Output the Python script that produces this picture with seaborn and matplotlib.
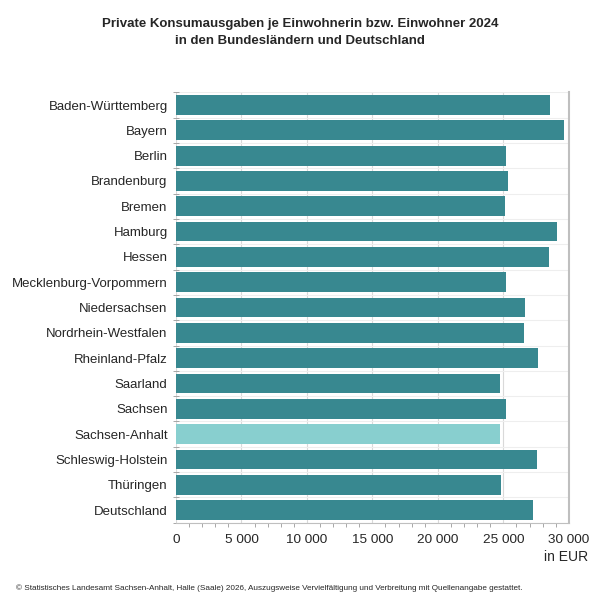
import numpy as np
import pandas as pd
import matplotlib
matplotlib.use("Agg")
import matplotlib.pyplot as plt
import seaborn as sns
from matplotlib.ticker import MultipleLocator, FuncFormatter, FixedLocator

# Daten (EUR je Einwohner)
laender = [
    "Baden-Württemberg", "Bayern", "Berlin", "Brandenburg", "Bremen",
    "Hamburg", "Hessen", "Mecklenburg-Vorpommern", "Niedersachsen",
    "Nordrhein-Westfalen", "Rheinland-Pfalz", "Saarland", "Sachsen",
    "Sachsen-Anhalt", "Schleswig-Holstein", "Thüringen", "Deutschland",
]
ausgaben = [
    28600, 29640, 25190, 25390, 25140,
    29080, 28500, 25220, 26690,
    26560, 27660, 24780, 25220,
    24760, 27560, 24830, 27300,
]
hervorgehoben = "Sachsen-Anhalt"

df = pd.DataFrame({"land": laender, "wert": ausgaben})
df["gruppe"] = np.where(df["land"] == hervorgehoben, "ST", "andere")

dunkel = "#388890"
hell = "#88CFCF"

sns.set_style("white")
plt.rcParams["font.family"] = ["Liberation Sans", "DejaVu Sans"]

fig = plt.figure(figsize=(6, 6), dpi=100)
ax = fig.add_axes([0.2933, 0.1288, 0.6547, 0.7172])

sns.barplot(data=df, y="land", x="wert", hue="gruppe", orient="h",
            palette={"andere": dunkel, "ST": hell}, width=0.78, saturation=1,
            dodge=False, legend=False, ax=ax, zorder=3, linewidth=0)

ax.set_xlim(0, 30000)
ax.set_ylim(len(laender) - 0.5, -0.5)

# x-Achse
ax.xaxis.set_major_locator(MultipleLocator(5000))
ax.xaxis.set_minor_locator(MultipleLocator(1000))
ax.xaxis.set_major_formatter(FuncFormatter(lambda v, p: f"{int(v):,}".replace(",", " ")))
ax.tick_params(axis="x", which="major", length=4, color="#999999", labelsize=9.7, pad=4)
ax.tick_params(axis="x", which="minor", length=3, color="#999999", bottom=True)

# y-Achse: Striche zwischen den Kategorien
ax.yaxis.set_minor_locator(FixedLocator(np.arange(-0.5, len(laender), 1)))
ax.tick_params(axis="y", which="major", length=0, labelsize=9.5, pad=6)
ax.tick_params(axis="y", which="minor", length=5, direction="inout", color="#999999", left=True)

ax.grid(axis="x", which="major", color="#d9d9d9", linewidth=0.8, zorder=0)
ax.grid(axis="y", which="minor", color="#eeeeee", linewidth=0.8, zorder=0)
ax.set_axisbelow(True)

ax.set_xlabel("")
ax.set_ylabel("")
for s in ["top", "left"]:
    ax.spines[s].set_visible(False)
ax.spines["bottom"].set_color("#bfbfbf")
ax.spines["right"].set_color("#bfbfbf")
ax.spines["right"].set_linewidth(1.5)

fig.text(0.5, 0.97, "Private Konsumausgaben je Einwohnerin bzw. Einwohner 2024\nin den Bundesländern und Deutschland",
         ha="center", va="top", fontsize=9.5, fontweight="bold", linespacing=1.5)
fig.text(0.98, 0.072, "in EUR", ha="right", va="center", fontsize=10)
fig.text(0.027, 0.02, "© Statistisches Landesamt Sachsen-Anhalt, Halle (Saale) 2026, Auszugsweise Vervielfältigung und Verbreitung mit Quellenangabe gestattet.",
         ha="left", va="center", fontsize=5.9)

fig.savefig("out.png", dpi=100)
